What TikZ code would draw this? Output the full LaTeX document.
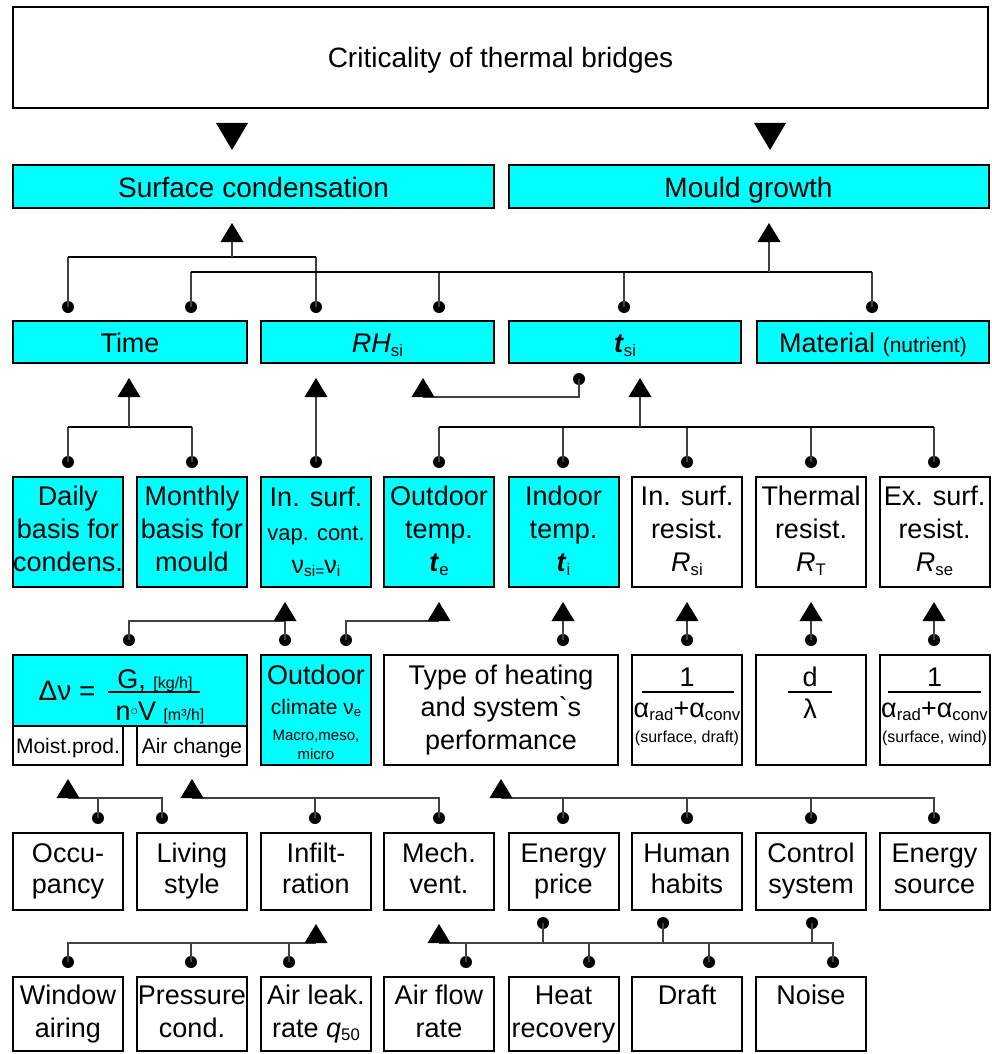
\documentclass[tikz,border=0pt]{standalone}
\usepackage{fontspec}
\setmainfont{Liberation Sans}
\definecolor{aqua}{RGB}{0,255,255}
\newcommand{\lsub}[1]{\raisebox{-0.25ex}{\scalebox{0.62}{#1}}}
\newcommand{\tbi}[1]{\textbf{\textit{#1}}}
\newcommand{\uptri}[2]{\fill[black] ({#1-11.5},#2) -- ({#1+11.5},#2) -- (#1,{#2-19}) -- cycle;}
\newcommand{\dntri}[2]{\fill[black] ({#1-16},#2) -- ({#1+16},#2) -- (#1,{#2+27}) -- cycle;}
\begin{document}
\begin{tikzpicture}[x=1pt,y=-1pt,
  bx/.style={draw=black, line width=2pt, inner sep=0pt, align=center, font=\fontsize{27}{33}\selectfont},
  one/.style={text height=21pt, text depth=0pt},
  cy/.style={fill=aqua},
  sq/.style={bx, minimum width=110pt, minimum height=110pt},
  rsix/.style={bx, minimum width=110pt, minimum height=77pt, font=\fontsize{27}{31}\selectfont},
  rsev/.style={bx, minimum width=110pt, minimum height=74pt, font=\fontsize{27}{33}\selectfont},
  lbl/.style={inner sep=0pt, anchor=base},
  wire/.style={line width=1.1pt, draw=black!75},
  busk/.style={line width=1.8pt, draw=black},
  dot/.style={circle, fill=black, inner sep=0pt, minimum size=12pt}]
\useasboundingbox (0,0) rectangle (991,1054);

% ---------- Row 1 and 2
\node[bx, one, minimum width=975pt, minimum height=101pt, font=\fontsize{28}{33}\selectfont] (top) at (500.5,57.5) {Criticality of thermal bridges};
\node[bx, one, cy, minimum width=481pt, minimum height=43pt, font=\fontsize{28}{33}\selectfont] (surf) at (253.5,186.5) {Surface condensation};
\node[bx, one, cy, minimum width=480pt, minimum height=43pt, font=\fontsize{28}{33}\selectfont] (mould) at (748.5,186.5) {Mould growth};
\dntri{232}{123}
\dntri{770}{123}

% ---------- Row 3
\node[bx, one, cy, minimum width=234pt, minimum height=42pt] (time) at (130,342) {Time};
\node[bx, one, cy, minimum width=233pt, minimum height=42pt] (rh) at (377.5,342) {\textit{RH}\lsub{si}};
\node[bx, one, cy, minimum width=232pt, minimum height=42pt] (tsi) at (625,342) {\tbi{t}\lsub{si}};
\node[bx, one, cy, minimum width=232pt, minimum height=42pt] (mat) at (873,342) {Material {\fontsize{21}{25}\selectfont (nutrient)}};

% ---------- Row 4
\node[sq, cy] (daily) at (68,532) {\strut Daily\\\strut basis for\\\strut condens.};
\node[sq, cy] (monthly) at (192,532) {\strut Monthly\\\strut basis for\\\strut mould};
\node[sq, cy] (vap) at (316,532) {};
\node[lbl, font=\fontsize{27}{33}\selectfont] (vap1) at (316,506) {In. surf.};
\node[lbl, font=\fontsize{22}{26}\selectfont] (vap2) at (316,540) {vap. cont.};
\node[lbl, font=\fontsize{25}{28}\selectfont] (vap3) at (316,573) {ν\lsub{si=}ν\lsub{i}};
\node[sq, cy] (te) at (439,532) {\strut Outdoor\\\strut temp.\\\strut\tbi{t}\lsub{e}};
\node[sq, cy] (ti) at (563.5,532) {\strut Indoor\\\strut temp.\\\strut\tbi{t}\lsub{i}};
\node[sq] (rsi) at (687,532) {\strut In. surf.\\\strut resist.\\\strut\textit{R}\lsub{si}};
\node[sq] (rt) at (811,532) {\strut Thermal\\\strut resist.\\\strut\textit{R}\lsub{T}};
\node[sq] (rse) at (934.5,532) {\strut Ex. surf.\\\strut resist.\\\strut\textit{R}\lsub{se}};

% ---------- Row 5
\node[bx, cy, minimum width=234pt, minimum height=71pt] (dnu) at (130,690.5) {};
\node[lbl, font=\fontsize{28}{33}\selectfont] (dnul) at (67,700) {Δν =};
\node[lbl, font=\fontsize{27}{33}\selectfont] (dnun) at (155,688) {G, {\fontsize{16}{18}\selectfont [kg/h]}};
\draw[line width=1.2pt] (108,692) -- (200,692);
\node[lbl, font=\fontsize{27}{33}\selectfont] (dnud) at (160,720) {n\raisebox{0.35ex}{\scalebox{0.6}{$\circ$}}V {\fontsize{16}{18}\selectfont [m³/h]}};
\node[bx, minimum width=110pt, minimum height=39pt, text height=15pt, text depth=0pt, font=\fontsize{21}{25}\selectfont] (moist) at (68,745.5) {Moist.prod.};
\node[bx, minimum width=110pt, minimum height=39pt, text height=15pt, text depth=0pt, font=\fontsize{21}{25}\selectfont] (airch) at (192,745.5) {Air change};

\node[sq, cy] (clim) at (316,710) {};
\node[lbl, font=\fontsize{27}{33}\selectfont] (clim1) at (316,684) {Outdoor};
\node[lbl, font=\fontsize{21}{25}\selectfont] (clim2) at (316,714) {climate ν\lsub{e}};
\node[lbl, font=\fontsize{15}{18}\selectfont] (clim3) at (316,740) {Macro,meso,};
\node[lbl, font=\fontsize{15}{18}\selectfont] (clim4) at (316,759) {micro};

\node[bx, minimum width=234pt, minimum height=110pt, font=\fontsize{27}{32.5}\selectfont] (heat) at (501,710) {\strut Type of heating\\\strut and system\textasciigrave s\\\strut performance};

\node[sq] (frsi) at (687,710) {};
\node[lbl, font=\fontsize{27}{33}\selectfont] (frsi1) at (687,686) {1};
\draw[line width=1.1pt] (642,692) -- (734,692);
\node[lbl, font=\fontsize{27}{33}\selectfont] (frsi2) at (687,717) {α\lsub{rad}+α\lsub{conv}};
\node[lbl, font=\fontsize{16}{19}\selectfont] (frsi3) at (687,742) {(surface, draft)};

\node[sq] (frt) at (811,710) {};
\node[lbl, font=\fontsize{27}{33}\selectfont] (frt1) at (810,686) {d};
\draw[line width=1.1pt] (788,692) -- (832,692);
\node[lbl, font=\fontsize{27}{33}\selectfont] (frt2) at (810,718) {λ};

\node[sq] (frse) at (934.5,710) {};
\node[lbl, font=\fontsize{27}{33}\selectfont] (frse1) at (934.5,686) {1};
\draw[line width=1.1pt] (888,692) -- (981,692);
\node[lbl, font=\fontsize{27}{33}\selectfont] (frse2) at (934.5,717) {α\lsub{rad}+α\lsub{conv}};
\node[lbl, font=\fontsize{16}{19}\selectfont] (frse3) at (934.5,742) {(surface, wind)};

% ---------- Row 6
\node[rsix] (occ) at (68,871.5) {\strut Occu-\\\strut pancy};
\node[rsix] (liv) at (192,871.5) {\strut Living\\\strut style};
\node[rsix] (inf) at (316,871.5) {\strut Infilt-\\\strut ration};
\node[rsix] (mech) at (439,871.5) {\strut Mech.\\\strut vent.};
\node[rsix] (eprice) at (563.5,871.5) {\strut Energy\\\strut price};
\node[rsix] (habits) at (687,871.5) {\strut Human\\\strut habits};
\node[rsix] (ctrl) at (811,871.5) {\strut Control\\\strut system};
\node[rsix] (esrc) at (934.5,871.5) {\strut Energy\\\strut source};

% ---------- Row 7
\node[rsev] (win) at (68,1014) {\strut Window\\\strut airing};
\node[rsev] (press) at (192,1014) {\strut Pressure\\\strut cond.};
\node[rsev] (leak) at (316,1014) {\strut Air leak.\\\strut rate \textit{q}\lsub{50}};
\node[rsev] (flow) at (439,1014) {\strut Air flow\\\strut rate};
\node[rsev] (hrec) at (563.5,1014) {\strut Heat\\\strut recovery};
\node[rsev] (draft) at (687,1014) {\strut Draft\\\strut};
\node[rsev] (noise) at (811,1014) {\strut Noise\\\strut};

% ---------- Connectors row 3 -> row 2
\node[dot] (p1) at (68,307) {};
\node[dot] (p2) at (191,307) {};
\node[dot] (p3) at (316,307) {};
\node[dot] (p4) at (439,307) {};
\node[dot] (p5) at (624,307) {};
\node[dot] (p6) at (872,307) {};
\draw[wire] (p1.center) -- (68,257);
\draw[wire] (p3.center) -- (316,257);
\draw[wire] (p2.center) -- (191,272);
\draw[wire] (p4.center) -- (439,272);
\draw[wire] (p5.center) -- (624,272);
\draw[wire] (p6.center) -- (872,272);
\draw[busk] (68,257) -- (316,257);
\draw[busk] (191,272) -- (872,272);
\draw[wire] (232,242) -- (232,257);
\uptri{232}{242}
\draw[wire] (769,242) -- (769,272);
\uptri{769}{242}

% ---------- Connectors row 4 -> row 3
\node[dot] (q1) at (68,462) {};
\node[dot] (q2) at (192,462) {};
\draw[wire] (q1.center) -- (68,427);
\draw[wire] (q2.center) -- (192,427);
\draw[busk] (68,427) -- (192,427);
\draw[wire] (129,427) -- (129,397);
\uptri{129}{397}
\node[dot] (q3) at (316,462) {};
\draw[wire] (q3.center) -- (316,397);
\uptri{316}{397}
\node[dot] (q0) at (579,379) {};
\draw[wire] (q0.center) -- (579,397) -- (423,397);
\uptri{423}{397}
\node[dot] (q4) at (439,462) {};
\node[dot] (q5) at (563,462) {};
\node[dot] (q6) at (687,462) {};
\node[dot] (q7) at (811,462) {};
\node[dot] (q8) at (934,462) {};
\draw[wire] (q4.center) -- (439,427);
\draw[wire] (q5.center) -- (563,427);
\draw[wire] (q6.center) -- (687,427);
\draw[wire] (q7.center) -- (811,427);
\draw[wire] (q8.center) -- (934,427);
\draw[busk] (439,427) -- (934,427);
\draw[wire] (640,427) -- (640,397);
\uptri{640}{397}

% ---------- Connectors row 5 -> row 4
\node[dot] (r1) at (129,640) {};
\node[dot] (r2) at (285,640) {};
\draw[wire] (r1.center) -- (129,621) -- (285,621) -- (r2.center);
\uptri{285}{621}
\node[dot] (r3) at (346,640) {};
\draw[wire] (r3.center) -- (346,621) -- (439,621);
\uptri{439}{621}
\node[dot] (r4) at (563,640) {};
\node[dot] (r5) at (687,640) {};
\node[dot] (r6) at (811,640) {};
\node[dot] (r7) at (934,640) {};
\draw[wire] (r4.center) -- (563,621);
\draw[wire] (r5.center) -- (687,621);
\draw[wire] (r6.center) -- (811,621);
\draw[wire] (r7.center) -- (934,621);
\uptri{563}{621}
\uptri{687}{621}
\uptri{811}{621}
\uptri{934}{621}

% ---------- Connectors row 6 -> row 5
\node[dot] (s1) at (98,818) {};
\node[dot] (s2) at (162,818) {};
\draw[wire] (s1.center) -- (98,798);
\draw[wire] (s2.center) -- (162,798) -- (68,798);
\uptri{68}{798}
\node[dot] (s3) at (315,818) {};
\node[dot] (s4) at (439,818) {};
\draw[wire] (s3.center) -- (315,798);
\draw[wire] (s4.center) -- (439,798) -- (192,798);
\uptri{192}{798}
\node[dot] (s5) at (563,818) {};
\node[dot] (s6) at (687,818) {};
\node[dot] (s7) at (811,818) {};
\node[dot] (s8) at (934,818) {};
\draw[wire] (s5.center) -- (563,798);
\draw[wire] (s6.center) -- (687,798);
\draw[wire] (s7.center) -- (811,798);
\draw[wire] (s8.center) -- (934,798) -- (501,798);
\uptri{501}{798}

% ---------- Connectors row 7 -> row 6
\node[dot] (t1) at (68,962) {};
\node[dot] (t2) at (191,962) {};
\node[dot] (t3) at (289,962) {};
\draw[wire] (t1.center) -- (68,943) -- (316,943);
\draw[wire] (t2.center) -- (191,943);
\draw[wire] (t3.center) -- (289,943);
\uptri{316}{943}
\node[dot] (u1) at (543,923) {};
\node[dot] (u2) at (663,923) {};
\node[dot] (u3) at (812,923) {};
\node[dot] (t4) at (466,962) {};
\node[dot] (t5) at (589,962) {};
\node[dot] (t6) at (709,962) {};
\node[dot] (t7) at (833,962) {};
\draw[wire] (u1.center) -- (543,943);
\draw[wire] (u2.center) -- (663,943);
\draw[wire] (u3.center) -- (812,943);
\draw[wire] (t4.center) -- (466,943);
\draw[wire] (t5.center) -- (589,943);
\draw[wire] (t6.center) -- (709,943);
\draw[wire] (t7.center) -- (833,943) -- (439,943);
\uptri{439}{943}
\end{tikzpicture}
\end{document}
